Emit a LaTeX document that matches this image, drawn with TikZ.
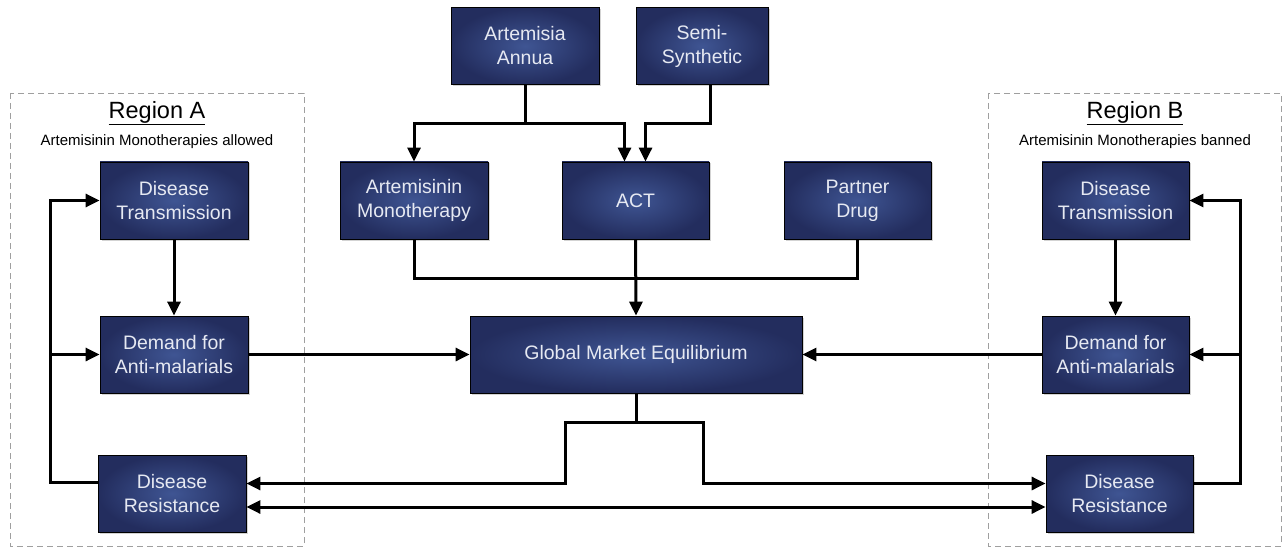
\documentclass[tikz,border=0pt]{standalone}
\usepackage{fontspec}
\setmainfont{Liberation Sans}
\usetikzlibrary{arrows.meta,shadows,calc}
\definecolor{boxin}{HTML}{3F5593}
\definecolor{boxout}{HTML}{232D5E}
\definecolor{boxtext}{HTML}{E6E9F2}
\tikzset{
 box/.style={draw=black, line width=0.8pt, inner color=boxin, outer color=boxout, text=boxtext,
   minimum width=148pt, minimum height=77pt, align=center, inner sep=0pt,
   font=\fontsize{19.5}{24}\selectfont,
   drop shadow={shadow xshift=1.5pt,shadow yshift=-1.5pt,opacity=0.35}},
 conn/.style={line width=3pt, -{Triangle[length=14pt,width=13pt]}},
 dconn/.style={line width=3pt, {Triangle[length=14pt,width=13pt]}-{Triangle[length=14pt,width=13pt]}},
 plain/.style={line width=3pt},
 region/.style={draw=gray!75, line width=0.9pt, dash pattern=on 6pt off 4pt},
 rtitle/.style={font=\fontsize{23.5}{28}\selectfont, inner sep=0pt},
 rsub/.style={font=\fontsize{15}{18}\selectfont, inner sep=0pt}
}
\begin{document}
\begin{tikzpicture}[x=1pt,y=-1pt]
\useasboundingbox (0,0) rectangle (1284,548);
% regions
\draw[region] (10,93) rectangle (304,546);
\draw[region] (988,93) rectangle (1281,546);
\node[rtitle] (ta) at (157,113) {\underline{Region A}};
\node[rsub] (sa) at (157,142) {Artemisinin Monotherapies allowed};
\node[rtitle] (tb) at (1135,113) {\underline{Region B}};
\node[rsub] (sb) at (1135,142) {Artemisinin Monotherapies banned};
% nodes
\node[box] (aa) at (525,46) {Artemisia\\Annua};
\node[box, minimum width=132pt] (ss) at (702,46) {Semi-\\Synthetic};
\node[box] (mono) at (414,200.5) {Artemisinin\\Monotherapy};
\node[box, minimum width=147pt] (act) at (635.5,200.5) {ACT};
\node[box, minimum width=147pt] (pd) at (857.5,200.5) {Partner\\Drug};
\node[box, minimum width=332pt] (gme) at (636,354.5) {Global Market Equilibrium};
\node[box] (at) at (174,200.5) {Disease\\Transmission};
\node[box] (ad) at (174,354.5) {Demand for\\Anti-malarials};
\node[box] (ar) at (172,493.5) {Disease\\Resistance};
\node[box, minimum width=147pt] (bt) at (1115.5,200.5) {Disease\\Transmission};
\node[box, minimum width=147pt] (bd) at (1115.5,354.5) {Demand for\\Anti-malarials};
\node[box, minimum width=147pt] (br) at (1119.5,493.5) {Disease\\Resistance};
\coordinate (la) at (50,0);
\coordinate (lb) at (1240,0);
% top connectors
\draw[conn] (aa.south) -- ++(0,39) -| (mono.north);
\draw[conn] (aa.south) -- ++(0,39) -| ([xshift=-11pt]act.north);
\draw[conn] ([xshift=8pt]ss.south) -- ++(0,39) -| ([xshift=10pt]act.north);
\draw[plain] (mono.south) -- ++(0,39) -| (pd.south);
\draw[conn] (act.south) -- (gme.north);
% regions to market
\draw[conn] (at.south) -- (ad.north);
\draw[conn] (bt.south) -- (bd.north);
\draw[conn] (ad.east) -- (gme.west);
\draw[conn] (bd.west) -- (gme.east);
% market to resistance
\draw[conn] (gme.south) -- ++(0,29) -- ++(-71,0) |- ([yshift=10pt]ar.east);
\draw[conn] (gme.south) -- ++(0,29) -- ++(67,0) |- ([yshift=10pt]br.west);
\draw[dconn] ([yshift=-13.5pt]ar.east) -- ([yshift=-13.5pt]br.west);
% feedback loops
\draw[conn] ([yshift=11pt]ar.west) -| (la |- at.west) -- (at.west);
\draw[conn] (la |- ad.west) -- (ad.west);
\draw[conn] ([yshift=10pt]br.east) -| (lb |- bt.east) -- (bt.east);
\draw[conn] (lb |- bd.east) -- (bd.east);
\end{tikzpicture}
\end{document}
